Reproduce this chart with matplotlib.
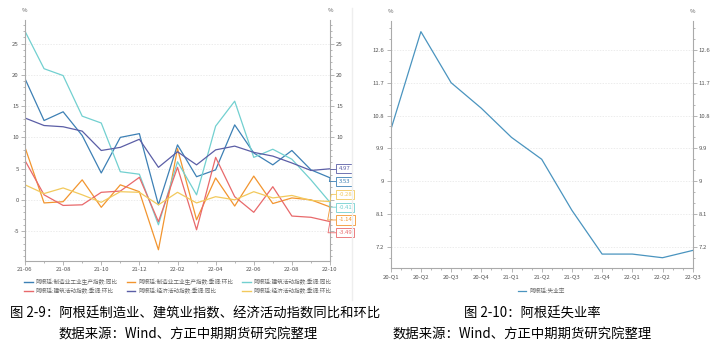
import matplotlib
matplotlib.use("Agg")
import matplotlib.pyplot as plt
from matplotlib.ticker import MultipleLocator
from matplotlib.lines import Line2D

plt.rcParams['font.family'] = ['Noto Sans CJK SC', 'DejaVu Sans']
plt.rcParams['axes.unicode_minus'] = False

# data -----------------------------------------------------------
months = ['21-06', '21-07', '21-08', '21-09', '21-10', '21-11', '21-12', '22-01',
          '22-02', '22-03', '22-04', '22-05', '22-06', '22-07', '22-08', '22-09', '22-10']

mfg_yoy = [19.4, 12.7, 14.1, 10.3, 4.3, 10.0, 10.6, -0.8, 8.8, 3.7, 4.8, 12.0, 7.5, 5.6, 7.9, 4.8, 3.53]
mfg_mom = [8.4, -0.5, -0.3, 3.2, -1.2, 2.4, 1.3, -8.0, 8.2, -3.2, 3.5, -1.0, 3.8, -0.6, 0.3, 0.0, -1.14]
con_yoy = [27.0, 21.0, 19.9, 13.4, 12.3, 4.5, 4.1, -4.0, 6.1, 0.8, 11.8, 15.8, 6.8, 8.1, 6.5, 3.2, -0.41]
con_mom = [6.3, 0.8, -0.9, -0.8, 1.2, 1.4, 3.6, -3.5, 5.2, -4.8, 6.8, 0.5, -2.0, 2.1, -2.6, -2.8, -3.49]
eco_yoy = [13.1, 11.9, 11.7, 11.0, 7.9, 8.4, 9.7, 5.2, 7.7, 5.6, 8.0, 8.6, 7.6, 7.0, 5.9, 4.7, 4.97]
eco_mom = [2.4, 1.0, 1.9, 0.8, -0.4, 1.3, 1.2, -0.8, 1.2, -0.5, 0.5, 0.0, 1.3, 0.3, 0.7, -0.1, -0.28]

left_names = ['阿根廷:制造业工业生产指数:同比', '阿根廷:制造业工业生产指数:季调:环比',
              '阿根廷:建筑活动指数:季调:同比', '阿根廷:建筑活动指数:季调:环比',
              '阿根廷:经济活动指数:季调:同比', '阿根廷:经济活动指数:季调:环比']
left_colors = ['#3d80b5', '#f2952f', '#72d0d0', '#e8696b', '#5b5ea6', '#f2c95c']

quarters = ['20-Q1', '20-Q2', '20-Q3', '20-Q4', '21-Q1', '21-Q2',
            '21-Q3', '21-Q4', '22-Q1', '22-Q2', '22-Q3']
unemp = [10.4, 13.1, 11.7, 11.0, 10.2, 9.6, 8.2, 7.0, 7.0, 6.9, 7.1]

captions = ['图 2-9：阿根廷制造业、建筑业指数、经济活动指数同比和环比',
            '图 2-10：阿根廷失业率']
source = '数据来源：Wind、方正中期期货研究院整理'

# helpers --------------------------------------------------------
W, H = 716, 350
TICK_C = '#555555'
AX_C = '#aaaaaa'


def style_axis(ax):
    ax.spines['top'].set_visible(False)
    for s in ['left', 'right', 'bottom']:
        ax.spines[s].set_color(AX_C)
        ax.spines[s].set_linewidth(0.8)
    ax.tick_params(which='both', colors=AX_C, labelcolor=TICK_C, labelsize=4.3,
                   direction='out', right=True, labelright=True, width=0.6)
    ax.tick_params(which='major', length=3, pad=1.5)
    ax.tick_params(which='minor', length=1.5)
    ax.grid(axis='y', which='major', color='#e4e4e4', lw=0.5, ls=(0, (2, 2)))
    ax.set_axisbelow(True)
    for xa in (0, 1):
        ax.annotate('%', xy=(xa, 1), xycoords='axes fraction', xytext=(0, 5),
                    textcoords='offset points', ha='center', va='bottom',
                    fontsize=4.3, color=TICK_C)


fig = plt.figure(figsize=(W / 100, H / 100), dpi=100)

# left chart -----------------------------------------------------
axl = fig.add_axes([25 / W, 1 - 261 / H, 305 / W, 241 / H])
series = [mfg_yoy, mfg_mom, con_yoy, con_mom, eco_yoy, eco_mom]
xs = list(range(len(months)))
for vals, c in zip(series, left_colors):
    axl.plot(xs, vals, color=c, lw=0.9)
axl.set_xlim(0, len(months) - 1)
axl.set_ylim(-9.8, 28.8)
axl.yaxis.set_major_locator(MultipleLocator(5))
axl.yaxis.set_minor_locator(MultipleLocator(1))
axl.set_xticks(xs[::2])
axl.set_xticklabels(months[::2])
axl.set_xticks(xs, minor=True)
style_axis(axl)

# end-value tags on the right side
order = sorted(range(len(series)), key=lambda k: -series[k][-1])
top_px = axl.transData.transform((xs[-1], series[order[0]][-1]))[1]
gap = 12.8
low_px = top_px - (len(order) - 1) * gap
inv = axl.transData.inverted()
tag_lo = inv.transform((0, low_px - 6))[1]
tag_hi = inv.transform((0, top_px + 6))[1]
# right-side tick labels hidden behind the tags
fig.canvas.draw()
for t in axl.yaxis.get_major_ticks():
    if tag_lo <= t.get_loc() <= tag_hi:
        t.label2.set_visible(False)

for n, k in enumerate(order):
    v = series[k][-1]
    c = left_colors[k]
    y_data = inv.transform((0, top_px - n * gap))[1]
    axl.annotate(f'{v:.2f}', xy=(xs[-1], v), xytext=(xs[-1] + 0.45, y_data),
                 textcoords='data', ha='left', va='center', fontsize=4.3, color=c,
                 annotation_clip=False, zorder=5,
                 bbox=dict(boxstyle='square,pad=0.35', fc='white', ec=c, lw=0.6),
                 arrowprops=dict(arrowstyle='-', color=c, lw=0.6, shrinkA=0, shrinkB=0,
                                 connectionstyle='angle,angleA=0,angleB=80,rad=0'))

handles = [Line2D([], [], color=c, lw=1.0) for c in left_colors]
idx = [0, 3, 1, 4, 2, 5]
fig.legend([handles[i] for i in idx], [left_names[i] for i in idx], ncol=3,
           loc='upper center', bbox_to_anchor=(178 / W, 1 - 274 / H),
           fontsize=4.1, frameon=False, handlelength=1.5, handletextpad=0.5,
           columnspacing=1.6, labelspacing=0.55, labelcolor='#666666')

# right chart ----------------------------------------------------
axr = fig.add_axes([390.7 / W, 1 - 268.3 / H, 302 / W, 247.6 / H])
qx = list(range(len(quarters)))
axr.plot(qx, unemp, color='#4a94bf', lw=0.9, label='阿根廷:失业率')
axr.set_xlim(0, len(quarters) - 1)
axr.set_ylim(6.61, 13.4)
axr.set_yticks([7.2, 8.1, 9.0, 9.9, 10.8, 11.7, 12.6])
axr.set_yticklabels(['7.2', '8.1', '9', '9.9', '10.8', '11.7', '12.6'])
axr.yaxis.set_minor_locator(MultipleLocator(0.3))
axr.set_xticks(qx)
axr.set_xticklabels(quarters)
axr.xaxis.set_minor_locator(MultipleLocator(1 / 3))
style_axis(axr)
fig.legend(loc='upper center', bbox_to_anchor=(541 / W, 1 - 283 / H), fontsize=4.1,
           frameon=False, handlelength=1.5, handletextpad=0.5, labelcolor='#666666')

# faint divider between the two pictures
fig.add_artist(Line2D([352 / W, 352 / W], [1 - 300 / H, 1 - 8 / H], color='#eeeeee', lw=1))

# captions -------------------------------------------------------
fig.text(195 / W, 1 - 314 / H, captions[0], ha='center', va='center', fontsize=9.6)
fig.text(188 / W, 1 - 335 / H, source, ha='center', va='center', fontsize=9.6)
fig.text(532 / W, 1 - 314 / H, captions[1], ha='center', va='center', fontsize=9.6)
fig.text(522 / W, 1 - 335 / H, source, ha='center', va='center', fontsize=9.6)

fig.savefig('out.png', dpi=100)
